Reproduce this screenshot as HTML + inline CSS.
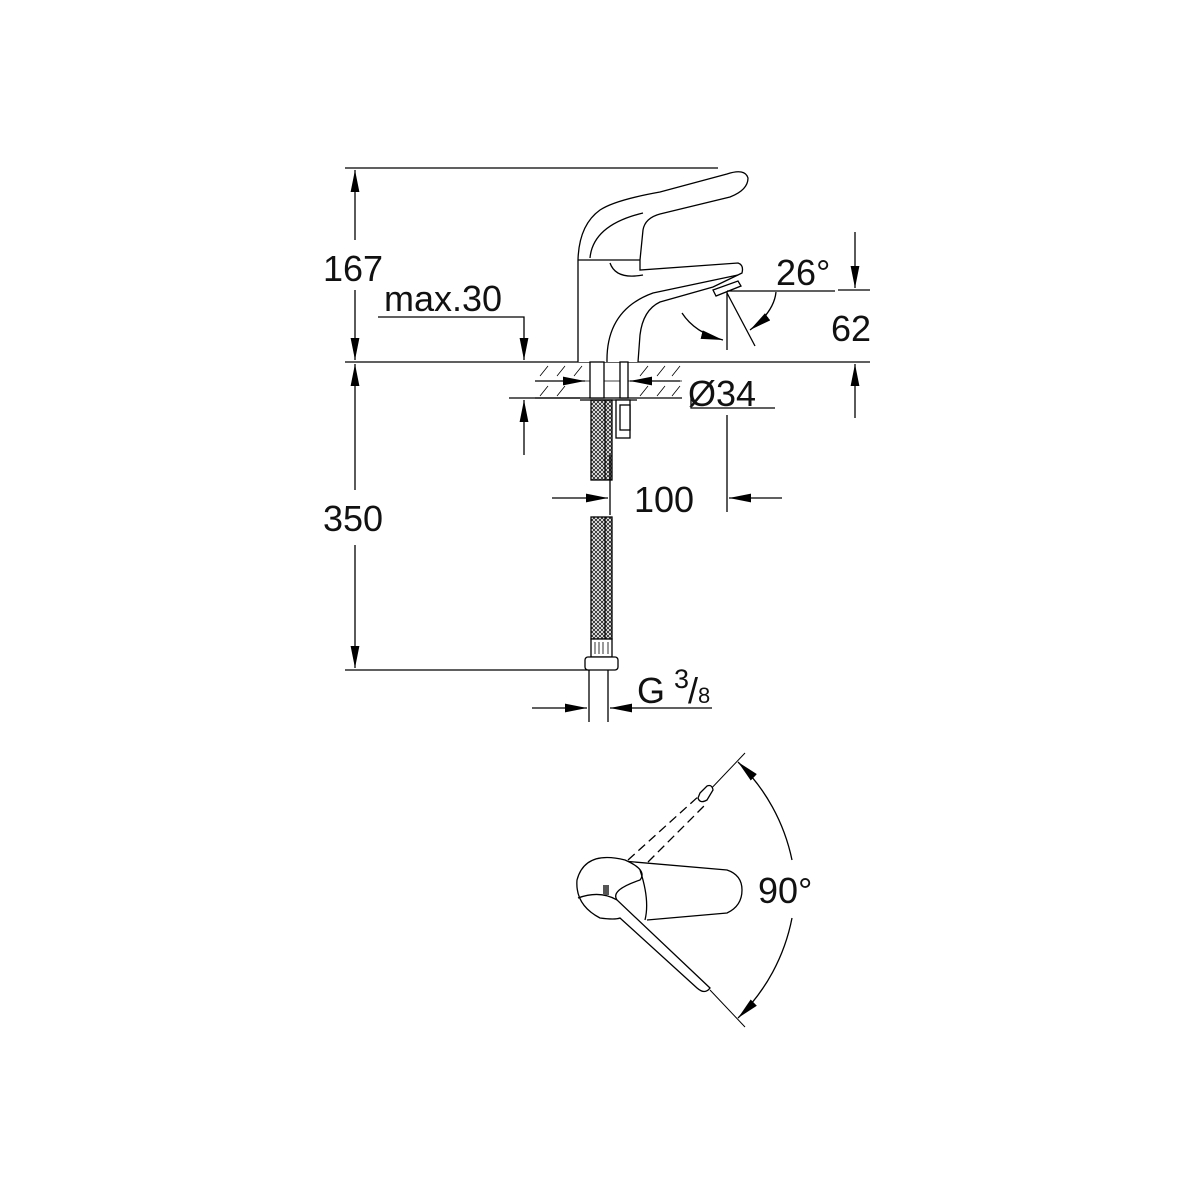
<!DOCTYPE html>
<html><head><meta charset="utf-8"><style>
html,body{margin:0;padding:0;background:#fff}
svg{display:block}
text{font-family:"Liberation Sans",Arial,sans-serif;fill:#111}
</style></head><body>
<svg width="1200" height="1200" viewBox="0 0 1200 1200" xmlns="http://www.w3.org/2000/svg">
<defs>
<marker id="a" viewBox="0 0 10 10" refX="10" refY="5" markerWidth="22" markerHeight="22" markerUnits="userSpaceOnUse" orient="auto-start-reverse"><path d="M0,3 L10,5 L0,7z" fill="#000"/></marker>
<pattern id="mesh" width="4" height="4" patternUnits="userSpaceOnUse"><path d="M0,0L4,4M4,0L0,4" stroke="#222" stroke-width="0.9"/></pattern>
</defs>
<g stroke="#000" stroke-width="1.3" fill="none">
<line x1="345" y1="168" x2="718" y2="168"/>
<line x1="345" y1="362" x2="870" y2="362"/>
<line x1="345" y1="670" x2="590" y2="670"/>
<line x1="355" y1="240" x2="355" y2="170" marker-end="url(#a)"/>
<line x1="355" y1="290" x2="355" y2="360" marker-end="url(#a)"/>
<line x1="355" y1="490" x2="355" y2="364" marker-end="url(#a)"/>
<line x1="355" y1="545" x2="355" y2="668" marker-end="url(#a)"/>
<polyline points="378,317 524,317 524,360" marker-end="url(#a)"/>
<line x1="509" y1="398" x2="580" y2="398"/>
<line x1="524" y1="455" x2="524" y2="400" marker-end="url(#a)"/>
<line x1="535" y1="398" x2="682" y2="398"/>
<line x1="535" y1="381" x2="682" y2="381" stroke-width="0.8"/>
<g stroke-width="0.8">
<path d="M540,376l8,-10M557,376l8,-10M574,376l8,-10M640,376l8,-10M657,376l8,-10M672,376l8,-10M540,396l8,-10M557,396l8,-10M640,396l8,-10M657,396l8,-10M672,396l8,-10"/>
</g>
<line x1="535" y1="381" x2="585" y2="381" marker-end="url(#a)"/>
<line x1="680" y1="381" x2="630" y2="381" marker-end="url(#a)"/>
<polyline points="691,392 691,408 775,408"/>
<path d="M578,362 L578,260 Q579,225 600,210 Q615,200 660,192 L727,174 Q745,168 748,178 Q748,190 730,197 L660,214 Q645,218 643,230 L640,260 L640,270 L738,263 Q744,265 742,273 L713,287 L660,302 Q643,310 640,335 L638,362" fill="#fff"/>
<line x1="578" y1="260" x2="640" y2="260"/>
<path d="M590,258 Q593,225 643,213"/>
<path d="M610,263 Q616,280 643,275"/>
<path d="M607,362 Q606,310 653,293 L738,275"/>
<path d="M713,290 L738,281 L741,286 L716,296 Z"/>
<rect x="590" y="362" width="14" height="36" fill="#fff"/>
<rect x="620" y="362" width="8" height="36" fill="#fff"/>
<line x1="580" y1="400" x2="637" y2="400"/>
<rect x="616" y="400" width="14" height="38" fill="#fff"/>
<rect x="620" y="405" width="10" height="25" fill="#fff"/>
<rect x="591" y="400" width="21" height="80" fill="url(#mesh)"/>
<line x1="605" y1="400" x2="605" y2="480"/>
<rect x="591" y="517" width="21" height="122" fill="url(#mesh)"/>
<line x1="605" y1="517" x2="605" y2="639"/>
<rect x="591" y="639" width="21" height="18" fill="#fff"/>
<path d="M595,642v12M599,642v12M603,642v12M608,642v12" stroke-width="0.8"/>
<rect x="585" y="657" width="33" height="13" rx="3" fill="#fff"/>
<line x1="589" y1="670" x2="589" y2="722"/>
<line x1="608" y1="670" x2="608" y2="722"/>
<line x1="610" y1="455" x2="610" y2="515"/>
<line x1="552" y1="498" x2="608" y2="498" marker-end="url(#a)"/>
<line x1="727" y1="415" x2="727" y2="512"/>
<line x1="782" y1="498" x2="729" y2="498" marker-end="url(#a)"/>
<line x1="532" y1="708" x2="587" y2="708" marker-end="url(#a)"/>
<line x1="712" y1="708" x2="610" y2="708" marker-end="url(#a)"/>
<line x1="727" y1="292" x2="727" y2="350"/>
<line x1="727" y1="293" x2="755" y2="346"/>
<line x1="727" y1="291" x2="835" y2="291"/>
<path d="M682,313 Q695,333 723,340" marker-end="url(#a)"/>
<path d="M776,292 Q774,312 750,330" marker-end="url(#a)"/>
<line x1="855" y1="232" x2="855" y2="288" marker-end="url(#a)"/>
<line x1="838" y1="290" x2="870" y2="290"/>
<line x1="855" y1="418" x2="855" y2="364" marker-end="url(#a)"/>
<line x1="745" y1="753" x2="707" y2="793" stroke-width="1"/>
<line x1="710" y1="990" x2="745" y2="1027" stroke-width="1"/>
<path d="M700,793 L707,786 Q712,784 713,790 L707,800 Q700,804 698,798Z" fill="#fff"/>
<path d="M628,860 L700,795 M648,862 L707,803" stroke-dasharray="9,5"/>
<path d="M623,861 L727,870 Q742,875 742,890 Q742,906 727,913 L647,920" fill="#fff"/>
<path d="M625,860 Q585,850 577,880 Q575,905 600,918 Q615,920 620,918 L697,988 Q705,995 710,988 L617,900 Q610,890 640,880 Q648,870 625,860Z" fill="#fff"/>
<path d="M578,898 Q600,890 617,900"/>
<path d="M640,870 Q650,900 645,920"/>
<rect x="603" y="885" width="6" height="10" fill="#555" stroke="none"/>
<path d="M738,762 A190,190 0 0 1 792,860" marker-start="url(#a)"/>
<path d="M792,918 A190,190 0 0 1 738,1018" marker-end="url(#a)"/>
</g>
<g font-size="36">
<rect x="318" y="247" width="70" height="40" fill="#fff"/>
<text x="353" y="281" text-anchor="middle">167</text>
<rect x="318" y="498" width="70" height="40" fill="#fff"/>
<text x="353" y="531" text-anchor="middle">350</text>
<text x="384" y="311">max.30</text>
<text x="688" y="406">Ø34</text>
<text x="634" y="512">100</text>
<text x="776" y="285">26°</text>
<text x="831" y="341">62</text>
<text x="637" y="703">G</text>
<text x="674" y="688" font-size="27">3</text>
<text x="688" y="703" font-size="36">/</text>
<text x="698" y="703" font-size="22">8</text>
<text x="758" y="903">90°</text>
</g>
</svg>
</body></html>
